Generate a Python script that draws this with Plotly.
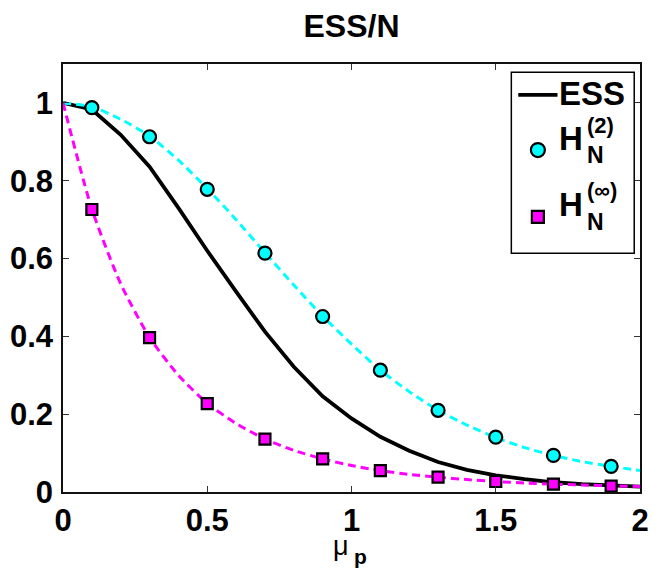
import plotly.graph_objects as go

# Grid of the mean shift mu_p
mu = [0.0, 0.1, 0.2, 0.3, 0.4, 0.5, 0.6, 0.7, 0.8, 0.9, 1.0,
      1.1, 1.2, 1.3, 1.4, 1.5, 1.6, 1.7, 1.8, 1.9, 2.0]

# Normalised effective sample size
ess = [1.0, 0.983, 0.918, 0.836, 0.73, 0.62, 0.515, 0.412, 0.322, 0.246, 0.189,
       0.142, 0.106, 0.077, 0.057, 0.043, 0.033, 0.025, 0.020, 0.016, 0.014]

# H_N^(2) curve and H_N^(inf) curve on the same grid
h2_curve = [1.0, 0.99, 0.958, 0.915, 0.853, 0.78, 0.70, 0.615, 0.532, 0.452, 0.38,
            0.313, 0.258, 0.21, 0.172, 0.14, 0.114, 0.094, 0.078, 0.066, 0.055]
hinf_curve = [1.0, 0.727, 0.535, 0.397, 0.3, 0.228, 0.176, 0.136, 0.107, 0.085, 0.068,
              0.055, 0.045, 0.038, 0.032, 0.027, 0.023, 0.020, 0.018, 0.016, 0.014]

# Marker samples
mu_pts = [0.1, 0.3, 0.5, 0.7, 0.9, 1.1, 1.3, 1.5, 1.7, 1.9]
h2_pts = [0.988, 0.913, 0.778, 0.614, 0.451, 0.313, 0.21, 0.141, 0.094, 0.066]
hinf_pts = [0.726, 0.397, 0.227, 0.136, 0.085, 0.055, 0.038, 0.027, 0.020, 0.015]

x_ticks = [0, 0.5, 1, 1.5, 2]
x_tick_text = ["0", "0.5", "1", "1.5", "2"]
y_ticks = [0, 0.2, 0.4, 0.6, 0.8, 1.0]
y_tick_text = ["0", "0.2", "0.4", "0.6", "0.8", "1"]

CYAN = "#00ffff"
MAGENTA = "#ff00ff"
FONT = "Liberation Sans, Arial, Helvetica, sans-serif"

fig = go.Figure()

fig.add_trace(go.Scatter(x=mu, y=ess, mode="lines",
                         line=dict(color="black", width=3.8), name="ESS"))
fig.add_trace(go.Scatter(x=mu, y=h2_curve, mode="lines",
                         line=dict(color=CYAN, width=3, dash="8px,5px", shape="spline",
                                   smoothing=0.6),
                         name="H2 curve"))
fig.add_trace(go.Scatter(x=mu, y=hinf_curve, mode="lines",
                         line=dict(color=MAGENTA, width=3, dash="8px,5px", shape="spline",
                                   smoothing=0.6),
                         name="Hinf curve"))
fig.add_trace(go.Scatter(x=mu_pts, y=h2_pts, mode="markers",
                         marker=dict(symbol="circle", size=13, color=CYAN,
                                     line=dict(color="black", width=2.2)),
                         name="H2"))
fig.add_trace(go.Scatter(x=mu_pts, y=hinf_pts, mode="markers",
                         marker=dict(symbol="square", size=11, color=MAGENTA,
                                     line=dict(color="black", width=2.2)),
                         name="Hinf"))

axis_common = dict(showline=True, linecolor="#111", linewidth=1.5, mirror="ticks",
                   ticks="inside", ticklen=6, tickwidth=1, tickcolor="#333",
                   showgrid=False, zeroline=False,
                   tickfont=dict(family=FONT, size=31, color="black", weight="bold"))

fig.update_xaxes(range=[0, 2], tickvals=x_ticks, ticktext=x_tick_text, **axis_common)
fig.update_yaxes(range=[0, 1.1], tickvals=y_ticks, ticktext=y_tick_text,
                 ticklabelstandoff=2, **axis_common)

# Hand-built legend box inside the axes (paper coordinates)
shapes = [
    dict(type="rect", xref="paper", yref="paper", x0=0.777, x1=0.990, y0=0.558, y1=0.981,
         line=dict(color="black", width=1.5), fillcolor="white", layer="above"),
    dict(type="line", xref="paper", yref="paper", x0=0.789, x1=0.857, y0=0.928, y1=0.928,
         line=dict(color="black", width=3.8), layer="above"),
    dict(type="circle", xref="paper", yref="paper", xsizemode="pixel", ysizemode="pixel",
         xanchor=0.823, yanchor=0.799, x0=-7, x1=7, y0=-7, y1=7,
         fillcolor=CYAN, line=dict(color="black", width=2.2), layer="above"),
    dict(type="rect", xref="paper", yref="paper", xsizemode="pixel", ysizemode="pixel",
         xanchor=0.823, yanchor=0.643, x0=-6, x1=6, y0=-6, y1=6,
         fillcolor=MAGENTA, line=dict(color="black", width=2.2), layer="above"),
]

def txt(text, x, y, size, bold=True, xanchor="left"):
    return dict(text=text, xref="paper", yref="paper", x=x, y=y, xanchor=xanchor,
                yanchor="middle", showarrow=False,
                font=dict(family=FONT, size=size, color="black",
                          weight="bold" if bold else "normal"))

annotations = [
    txt("ESS", 0.857, 0.932, 33),
    txt("H", 0.857, 0.827, 33),
    txt("(2)", 0.905, 0.857, 22),
    txt("N", 0.905, 0.788, 23),
    txt("H", 0.857, 0.671, 33),
    txt("(\u221e)", 0.905, 0.704, 22),
    txt("N", 0.905, 0.632, 23),
    # x-axis label: mu with a bold subscript p
    txt("\u03bc", 0.482, -0.126, 27, bold=False, xanchor="center"),
    txt("p", 0.501, -0.150, 21, bold=True, xanchor="left"),
]

fig.update_layout(
    width=659, height=570,
    margin=dict(l=62, r=10, t=64, b=78),
    paper_bgcolor="white", plot_bgcolor="white",
    showlegend=False,
    title=dict(text="ESS/N", x=0.5, xref="paper", xanchor="center",
               y=1 - 26 / 570, yref="container", yanchor="middle",
               font=dict(family=FONT, size=32, color="black", weight="bold")),
    shapes=shapes,
    annotations=annotations,
)

fig.write_html("out.html")
